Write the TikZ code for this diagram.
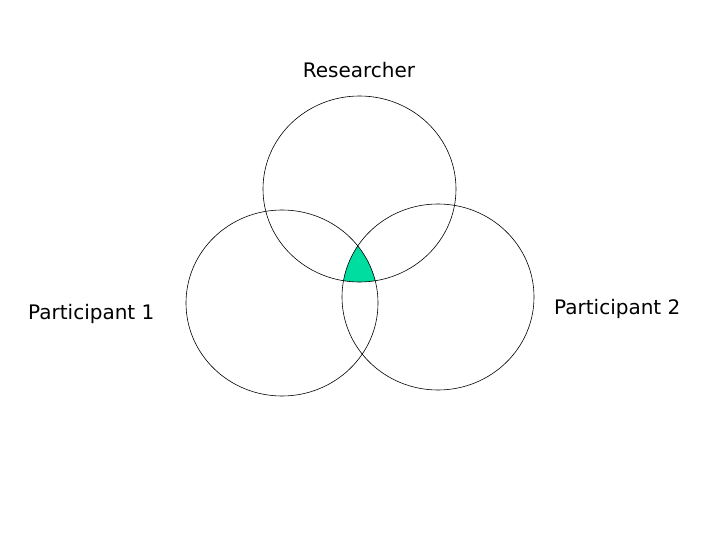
\documentclass[tikz,border=0pt]{standalone}
\usepackage{fontspec}
\setmainfont{DejaVu Sans}
\definecolor{mint}{RGB}{0,221,160}
\begin{document}
\begin{tikzpicture}[x=1pt,y=-1pt,
  ring/.style={draw=black,line width=0.6pt},
  lbl/.style={inner sep=0pt,font=\fontsize{20}{24}\selectfont}]
\useasboundingbox (0,0) rectangle (720,540);
\begin{scope}
  \clip (359.5,189) ellipse [x radius=96.5,y radius=93];
  \clip (282,303) ellipse [x radius=96,y radius=93];
  \fill[mint] (438,297) ellipse [x radius=96,y radius=93];
\end{scope}
\draw[ring] (359.5,189) ellipse [x radius=96.5,y radius=93];
\draw[ring] (282,303) ellipse [x radius=96,y radius=93];
\draw[ring] (438,297) ellipse [x radius=96,y radius=93];
\node[lbl,anchor=base] (res) at (359,78) {Researcher};
\node[lbl,anchor=base west] (p1) at (28,319) {Participant 1};
\node[lbl,anchor=base west] (p2) at (554,314) {Participant 2};
\end{tikzpicture}
\end{document}
